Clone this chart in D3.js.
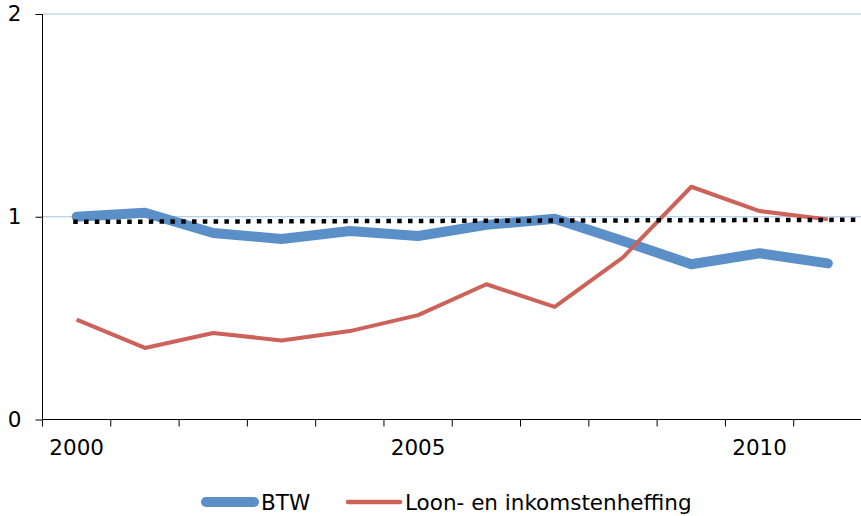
<!DOCTYPE html>
<html><head><meta charset="utf-8">
<script src="https://cdn.jsdelivr.net/npm/d3@7/dist/d3.min.js"></script>
<style>
html,body{margin:0;padding:0;background:#fff;}
svg{display:block;font-family:"DejaVu Sans",Verdana,sans-serif;}
</style></head>
<body><svg id="c" width="861" height="516"></svg>
<script>
const years = [2000,2001,2002,2003,2004,2005,2006,2007,2008,2009,2010,2011];
const btw = [1.00,1.02,0.92,0.89,0.93,0.905,0.96,0.99,0.88,0.766,0.82,0.77];
const loon = [0.493,0.353,0.427,0.39,0.436,0.515,0.667,0.555,0.80,1.148,1.028,0.987];
const trendYears = [1999.95, 2011.53];
const trendValues = [0.975, 0.985];
const yTicks = [0,1,2];
const xLabels = [2000,2005,2010];
const seriesNames = ["BTW","Loon- en inkomstenheffing"];

const FS = 21.5;
const svg = d3.select("#c");
const x = d3.scaleLinear().domain([1999.5, 2011.5]).range([42.5, 862]);
const y = d3.scaleLinear().domain([0, 2]).range([419.5, 14]);

// gridlines
svg.append("g").selectAll("line").data(yTicks.filter(d=>d>0)).join("line")
  .attr("x1",42.5).attr("x2",861).attr("y1",d=>y(d)).attr("y2",d=>y(d))
  .attr("stroke","#9fc3e7").attr("stroke-width",1);

// y axis
const yAxis = svg.append("g").attr("transform","translate(42.5,0)")
  .call(d3.axisLeft(y).tickValues(yTicks).tickFormat(d3.format("d")).tickSize(7).tickPadding(14));
yAxis.select(".domain").attr("stroke","#000").attr("d","M0,"+y(2)+"V"+y(0));
yAxis.selectAll("text").attr("font-size",FS).attr("fill","#000").attr("font-family","DejaVu Sans");
yAxis.selectAll(".tick line").attr("stroke","#000");

// x axis
const gx = svg.append("g").attr("transform","translate(0,419.5)");
gx.append("line").attr("x1",42.5).attr("x2",861).attr("stroke","#000");
const edges = d3.range(0, years.length).map(i=>years[0]-0.5+i);
gx.selectAll("line.t").data(edges).join("line").attr("class","t")
  .attr("x1",d=>x(d)).attr("x2",d=>x(d)).attr("y1",0).attr("y2",7).attr("stroke","#000");
gx.selectAll("text").data(xLabels).join("text")
  .attr("x",d=>x(d)).attr("y",35).attr("text-anchor","middle")
  .attr("font-size",FS).attr("fill","#000").text(d=>d);

// series
const line = d3.line().x((d,i)=>x(years[i])).y(d=>y(d));
svg.append("path").datum(btw).attr("d",line).attr("fill","none")
  .attr("stroke","#5b8fc8").attr("stroke-width",10).attr("stroke-linecap","round").attr("stroke-linejoin","round");
svg.append("path").datum(loon).attr("d",line).attr("fill","none")
  .attr("stroke","#cc625a").attr("stroke-width",4).attr("stroke-linejoin","round");

// trendline (on top)
svg.append("path").datum(trendYears.map((d,i)=>[d,trendValues[i]]))
  .attr("d", d3.line().x(d=>x(d[0])).y(d=>y(d[1])))
  .attr("fill","none").attr("stroke","#000").attr("stroke-width",4.5).attr("stroke-dasharray","4.5 6.3");

// legend
const lg = svg.append("g");
lg.append("line").attr("x1",206).attr("x2",254).attr("y1",502).attr("y2",502)
  .attr("stroke","#5b8fc8").attr("stroke-width",10).attr("stroke-linecap","round");
lg.append("text").attr("x",261).attr("y",510).attr("font-size",FS).text(seriesNames[0]);
lg.append("line").attr("x1",348).attr("x2",400).attr("y1",502).attr("y2",502)
  .attr("stroke","#cc625a").attr("stroke-width",4.5).attr("stroke-linecap","round");
lg.append("text").attr("x",405).attr("y",510).attr("font-size",FS).text(seriesNames[1]);
</script></body></html>
